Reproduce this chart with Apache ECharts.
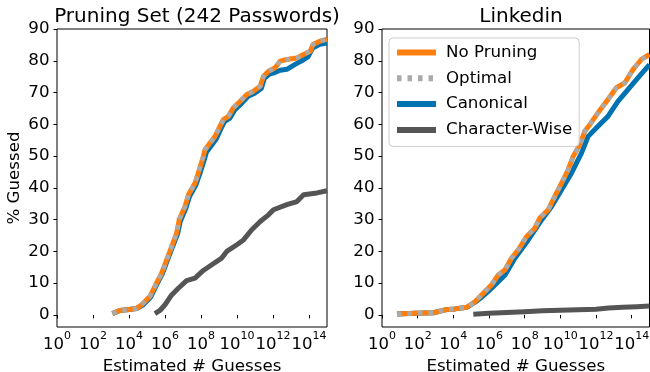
<!DOCTYPE html>
<html>
<head>
<meta charset="utf-8">
<script src="https://cdn.jsdelivr.net/npm/echarts@6/dist/echarts.min.js"></script>
<style>
html,body{margin:0;padding:0;background:#fff;}
#chart{width:650px;height:372px;}
</style>
</head>
<body>
<div id="chart"></div>
<script>
// ---- Data (x values are log10 of the estimated number of guesses) ----
const titles = ['Pruning Set (242 Passwords)', 'Linkedin'];
const seriesNames = ['No Pruning', 'Optimal', 'Canonical', 'Character-Wise'];
const xTickExponents = [0, 2, 4, 6, 8, 10, 12, 14];
const yTicks = [0, 10, 20, 30, 40, 50, 60, 70, 80, 90];

// Pruning set
const pruneNoPruningX = [3.08, 3.49, 4.0, 4.42, 4.70, 5.16, 5.53, 5.81, 6.09, 6.37, 6.65, 6.79, 7.11, 7.30, 7.67, 7.85, 8.13, 8.22, 8.5, 8.78, 9.06, 9.24, 9.52, 9.8, 10.17, 10.55, 10.91, 11.29, 11.47, 11.75, 12.12, 12.4, 12.77, 13.33, 13.7, 14.07, 14.22, 14.63, 15.0];
const pruneNoPruningY = [0.4, 1.4, 1.7, 2.0, 3.2, 5.8, 10, 13.1, 17.3, 21.5, 25.8, 30, 34.1, 37.8, 41.5, 44.7, 49.9, 52, 54.1, 56.2, 59.4, 61.5, 62.5, 65.2, 67.2, 69.4, 70.4, 72, 75.1, 76.7, 77.8, 79.9, 80.4, 80.9, 82, 83, 85.1, 86.2, 86.8];
const pruneOptimalX = pruneNoPruningX;
const pruneOptimalY = pruneNoPruningY;
const pruneCanonicalX = [3.08, 3.49, 4.0, 4.42, 4.75, 5.2, 5.56, 5.85, 6.12, 6.4, 6.7, 6.85, 7.16, 7.36, 7.72, 7.92, 8.2, 8.3, 8.58, 8.86, 9.12, 9.3, 9.6, 9.87, 10.24, 10.62, 10.98, 11.35, 11.52, 11.8, 12.1, 12.4, 12.77, 13.3, 13.7, 13.95, 14.2, 14.6, 15.0];
const pruneCanonicalY = [0.4, 1.4, 1.7, 2.0, 3.0, 5.6, 9.8, 12.9, 17, 21.2, 25.5, 29.5, 33.6, 37.3, 41, 44.2, 49.2, 51.2, 53.3, 55.5, 58.8, 60.8, 61.9, 64.5, 66.5, 68.8, 69.8, 71.3, 74.5, 75.8, 76.3, 77.0, 77.3, 79.1, 80.3, 81.3, 84, 85.2, 85.6];
const pruneCharX = [5.44, 5.72, 6.0, 6.37, 6.74, 7.2, 7.67, 8.13, 8.6, 9.15, 9.43, 9.99, 10.36, 10.82, 11.29, 11.75, 12.03, 12.77, 13.33, 13.7, 14.44, 15.0];
const pruneCharY = [0.4, 1.4, 3.2, 6.3, 8.4, 10.8, 11.6, 14, 15.8, 17.9, 20, 22.1, 23.6, 26.8, 29.4, 31.5, 33.1, 34.7, 35.7, 37.8, 38.4, 39.1];

// Linkedin
const liNoPruningX = [0.84, 1.86, 2.89, 3.54, 4.1, 4.75, 5.22, 5.5, 6.15, 6.52, 6.9, 7.27, 7.64, 8.11, 8.57, 8.85, 9.32, 9.69, 10.07, 10.44, 10.72, 11.09, 11.37, 11.65, 12.11, 12.67, 13.14, 13.61, 14.07, 14.54, 15.0];
const liNoPruningY = [0.3, 0.5, 0.7, 1.6, 1.9, 2.4, 4.2, 5.8, 9.5, 12.6, 14.2, 17.9, 20.5, 24.7, 27.3, 30.5, 33.1, 37.3, 41.5, 45.7, 49.9, 53.6, 57.8, 59.9, 63.6, 67.8, 71.5, 73, 77.2, 80.4, 82];
const liOptimalX = liNoPruningX;
const liOptimalY = liNoPruningY;
const liCanonicalX = [0.84, 1.86, 2.89, 3.54, 4.1, 4.75, 5.22, 5.55, 6.15, 6.9, 7.46, 8.2, 8.95, 9.51, 10.07, 10.63, 11.19, 11.56, 12.11, 12.67, 13.23, 13.79, 14.35, 15.0];
const liCanonicalY = [0.3, 0.5, 0.7, 1.6, 1.9, 2.4, 4.0, 5.4, 8.4, 12.6, 17.9, 23.6, 29.9, 34.1, 39.4, 44.7, 51, 56.2, 59.4, 62.5, 67.2, 70.9, 74.6, 78.8];
const liCharX = [5.12, 6, 7, 8, 9, 10, 11, 12, 12.7, 13.5, 14.3, 15];
const liCharY = [0.2, 0.5, 0.8, 1.0, 1.3, 1.5, 1.6, 1.8, 2.2, 2.4, 2.6, 2.8];

// ---- Build chart ----
const FONT = 'DejaVu Sans';
const FS = 16.67;
const colors = {
  'No Pruning': '#ff7f0e',
  'Optimal': '#aaaaaa',
  'Canonical': '#0072b2',
  'Character-Wise': '#555555'
};
function pairs(xs, ys) { return xs.map((x, i) => [x, ys[i]]); }

const panels = [
  { nop: [pruneNoPruningX, pruneNoPruningY], opt: [pruneOptimalX, pruneOptimalY], can: [pruneCanonicalX, pruneCanonicalY], chr: [pruneCharX, pruneCharY] },
  { nop: [liNoPruningX, liNoPruningY], opt: [liOptimalX, liOptimalY], can: [liCanonicalX, liCanonicalY], chr: [liCharX, liCharY] }
];

const grids = [
  { left: 57, top: 29, width: 270, height: 298 },
  { left: 382, top: 29, width: 267.5, height: 298 }
];

const xAxes = [], yAxes = [], series = [];
grids.forEach((g, i) => {
  xAxes.push({
    type: 'value', gridIndex: i, min: 0, max: 15,
    name: 'Estimated # Guesses', nameLocation: 'middle', nameGap: 26,
    nameTextStyle: { fontFamily: FONT, fontSize: FS, color: '#000' },
    axisLine: { show: false },
    splitLine: { show: false },
    axisTick: { show: true, length: 3.5, lineStyle: { color: '#000', width: 1 }, customValues: xTickExponents },
    axisLabel: {
      show: true, margin: 4, customValues: xTickExponents, interval: 0, hideOverlap: false,
      showMinLabel: true, showMaxLabel: true,
      formatter: v => '{b|10}{s|' + v + '}',
      rich: {
        b: { fontFamily: FONT, fontSize: 16.5, lineHeight: 22, verticalAlign: 'bottom', color: '#000' },
        s: { fontFamily: FONT, fontSize: 11, lineHeight: 11, verticalAlign: 'top', color: '#000' }
      }
    }
  });
  yAxes.push({
    type: 'value', gridIndex: i, min: -3.8, max: 90,
    name: i === 0 ? '% Guessed' : '', nameLocation: 'middle', nameGap: 34, nameRotate: 90,
    nameTextStyle: { fontFamily: FONT, fontSize: FS, color: '#000' },
    axisLine: { show: false },
    splitLine: { show: false },
    axisTick: { show: true, length: 3.5, lineStyle: { color: '#000', width: 1 }, customValues: yTicks },
    axisLabel: { show: true, margin: 7.5, customValues: yTicks, interval: 0, fontFamily: FONT, fontSize: FS, color: '#000' }
  });
  const p = panels[i];
  const mk = (name, d, extra) => Object.assign({
    name, type: 'line', xAxisIndex: i, yAxisIndex: i,
    data: pairs(d[0], d[1]), showSymbol: false, symbol: 'none',
    lineStyle: { color: colors[name], width: 5, cap: 'butt', join: 'round' },
    itemStyle: { color: colors[name] },
    animation: false, silent: true
  }, extra || {});
  series.push(mk('Canonical', p.can));
  series.push(mk('No Pruning', p.nop));
  series.push(mk('Optimal', p.opt, { lineStyle: { color: colors['Optimal'], width: 4.5, type: [4.5, 6], cap: 'butt' } }));
  series.push(mk('Character-Wise', p.chr));
});

const option = {
  backgroundColor: '#fff',
  animation: false,
  title: [
    { text: titles[0], left: 192, top: 2, textAlign: 'center', textStyle: { fontFamily: FONT, fontSize: 20, fontWeight: 'normal', color: '#000' } },
    { text: titles[1], left: 516, top: 2, textAlign: 'center', textStyle: { fontFamily: FONT, fontSize: 20, fontWeight: 'normal', color: '#000' } }
  ],
  legend: {
    data: seriesNames,
    orient: 'vertical', left: 389, top: 38,
    padding: [6, 7, 8, 5],
    itemWidth: 39, itemHeight: 14, itemGap: 8.8,
    backgroundColor: 'rgba(255,255,255,0.8)',
    borderColor: '#cccccc', borderWidth: 1, borderRadius: 4,
    lineStyle: { width: 6 },
    itemStyle: { opacity: 0, borderWidth: 0 },
    textStyle: { fontFamily: FONT, fontSize: FS, lineHeight: 16, color: '#000', padding: [0, 0, 0, 5] },
    selectedMode: false
  },
  grid: grids.map(g => Object.assign({ show: true, borderColor: '#000', borderWidth: 1, backgroundColor: 'transparent', outerBoundsMode: 'none', containLabel: false }, g)),
  xAxis: xAxes,
  yAxis: yAxes,
  series: series
};

const chart = echarts.init(document.getElementById('chart'), null, { renderer: 'canvas' });
chart.setOption(option);
</script>
</body>
</html>
